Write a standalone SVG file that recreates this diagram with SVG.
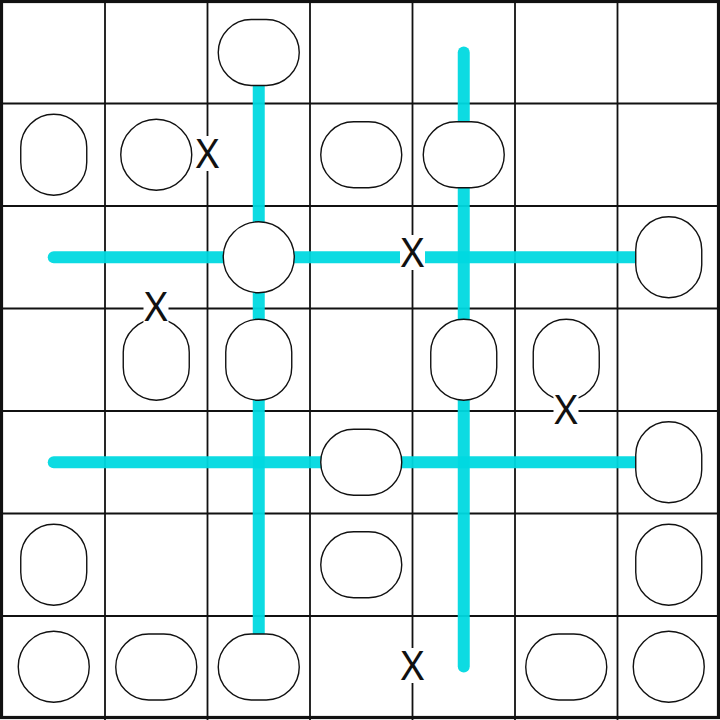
<svg xmlns="http://www.w3.org/2000/svg" width="720" height="720" viewBox="0 0 720 720">
<style>
.grid{stroke:#111;stroke-width:1.8;fill:none}
.border{stroke:#111;stroke-width:3.2;fill:none}
.conn{stroke:#00d9e0;stroke-width:12;stroke-linecap:round;stroke-opacity:0.95;fill:none}
.node{fill:#fff;stroke:#111;stroke-width:1.4}
.xbg{fill:#fff}
.xl{font-family:"Noto Sans","Open Sans","Liberation Sans",sans-serif;font-size:40px;fill:#111;text-anchor:middle}
</style>
<rect width="720" height="720" fill="#fff"/>
<g id="grid">
<rect class="border" x="1.5" y="1.5" width="717" height="716"/>
<path class="grid" d="M105 0V720M207.5 0V720M310 0V720M412.5 0V720M515 0V720M617.5 0V720M0 103.5H720M0 206H720M0 308.5H720M0 411H720M0 513.5H720M0 616H720"/>
</g>
<g id="connectors">
<line class="conn" x1="258.75" y1="52.5" x2="258.75" y2="666.5"/>
<line class="conn" x1="463.75" y1="52.5" x2="463.75" y2="666.5"/>
<line class="conn" x1="53.75" y1="257.25" x2="668.75" y2="257.25"/>
<line class="conn" x1="53.75" y1="462.25" x2="668.75" y2="462.25"/>
</g>
<g id="nodes">
<g id="r0c2"><rect class="node" x="218.25" y="19.5" width="81" height="66" rx="33"/></g>
<g id="r1c0"><rect class="node" x="20.75" y="114.25" width="66" height="81" rx="33"/></g>
<g id="r1c1"><circle class="node" cx="156.25" cy="154.75" r="35.5"/></g>
<g id="r1c3"><rect class="node" x="320.75" y="121.75" width="81" height="66" rx="33"/></g>
<g id="r1c4"><rect class="node" x="423.25" y="121.75" width="81" height="66" rx="33"/></g>
<g id="r2c2"><circle class="node" cx="258.75" cy="257.25" r="35.5"/></g>
<g id="r2c6"><rect class="node" x="635.75" y="216.75" width="66" height="81" rx="33"/></g>
<g id="r3c1"><rect class="node" x="123.25" y="319.25" width="66" height="81" rx="33"/></g>
<g id="r3c2"><rect class="node" x="225.75" y="319.25" width="66" height="81" rx="33"/></g>
<g id="r3c4"><rect class="node" x="430.75" y="319.25" width="66" height="81" rx="33"/></g>
<g id="r3c5"><rect class="node" x="533.25" y="319.25" width="66" height="81" rx="33"/></g>
<g id="r4c3"><rect class="node" x="320.75" y="429.25" width="81" height="66" rx="33"/></g>
<g id="r4c6"><rect class="node" x="635.75" y="421.75" width="66" height="81" rx="33"/></g>
<g id="r5c0"><rect class="node" x="20.75" y="524.25" width="66" height="81" rx="33"/></g>
<g id="r5c3"><rect class="node" x="320.75" y="531.75" width="81" height="66" rx="33"/></g>
<g id="r5c6"><rect class="node" x="635.75" y="524.25" width="66" height="81" rx="33"/></g>
<g id="r6c0"><circle class="node" cx="53.75" cy="666.75" r="35.5"/></g>
<g id="r6c1"><rect class="node" x="115.75" y="634" width="81" height="66" rx="33"/></g>
<g id="r6c2"><rect class="node" x="218.25" y="634" width="81" height="66" rx="33"/></g>
<g id="r6c5"><rect class="node" x="525.75" y="634" width="81" height="66" rx="33"/></g>
<g id="r6c6"><circle class="node" cx="668.75" cy="666.75" r="35.5"/></g>
</g>
<g id="marks">
<rect class="xbg" x="195" y="136" width="25" height="35"/>
<text class="xl" x="207.5" y="168">X</text>
<rect class="xbg" x="143.5" y="288.5" width="25" height="35"/>
<text class="xl" x="156" y="320.5">X</text>
<rect class="xbg" x="400" y="235" width="25" height="35"/>
<text class="xl" x="412.5" y="267">X</text>
<rect class="xbg" x="553.5" y="391.5" width="25" height="35"/>
<text class="xl" x="566" y="423.5">X</text>
<rect class="xbg" x="400" y="648" width="25" height="35"/>
<text class="xl" x="412.5" y="680">X</text>
</g>
</svg>
